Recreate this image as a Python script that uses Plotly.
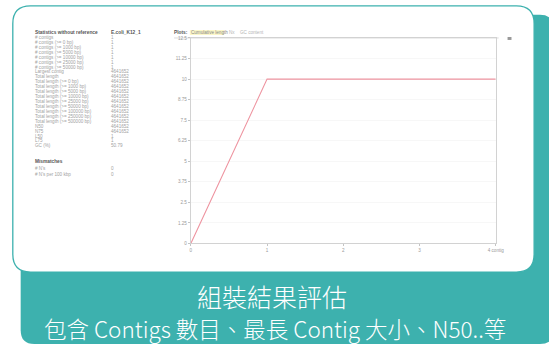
import plotly.graph_objects as go

W, H = 549, 349

# ---- data -------------------------------------------------------------
contig_index = [0, 1, 2, 3, 4]
cumulative_length = [0, 10, 10, 10, 10]
x_tick_vals = [0, 1, 2, 3, 4]
x_tick_text = ["0", "1", "2", "3", "4 contig"]
y_tick_vals = [0, 1.25, 2.5, 3.75, 5, 6.25, 7.5, 8.75, 10, 11.25, 12.5]
y_tick_text = ["0", "1.25", "2.5", "3.75", "5", "6.25", "7.5", "8.75", "10", "11.25", "12.5"]

stat_labels = [
    "# contigs", "# contigs (>= 0 bp)", "# contigs (>= 1000 bp)",
    "# contigs (>= 5000 bp)", "# contigs (>= 10000 bp)", "# contigs (>= 25000 bp)",
    "# contigs (>= 50000 bp)", "Largest contig", "Total length",
    "Total length (>= 0 bp)", "Total length (>= 1000 bp)", "Total length (>= 5000 bp)",
    "Total length (>= 10000 bp)", "Total length (>= 25000 bp)", "Total length (>= 50000 bp)",
    "Total length (>= 100000 bp)", "Total length (>= 250000 bp)", "Total length (>= 500000 bp)",
    "N50", "N75", "L50", "L75", "GC (%)",
]
stat_values = [
    "1", "1", "1", "1", "1", "1", "1", "4641652", "4641652",
    "4641652", "4641652", "4641652", "4641652", "4641652", "4641652",
    "4641652", "4641652", "4641652",
    "4641652", "4641652", "1", "1", "50.79",
]
mismatch_labels = ["# N's", "# N's per 100 kbp"]
mismatch_values = ["0", "0"]

title_line1 = "組裝結果評估"
title_line2 = "包含 Contigs 數目、最長 Contig 大小、N50..等"

TEAL = "#3db1ae"
CJK = "Noto Sans CJK TC, Noto Sans CJK SC, sans-serif"

# helpers: pixel position (from top-left) -> paper fraction
px = lambda v: v / W
py = lambda v: 1 - v / H


def rounded_rect(x0, y0, x1, y1, r):
    pts = []
    def P(cmd, *xy):
        coords = " ".join(f"{px(xy[i]):.5f},{py(xy[i+1]):.5f}" for i in range(0, len(xy), 2))
        pts.append(f"{cmd}{coords}")
    P("M", x0 + r, y0); P("L", x1 - r, y0); P("Q", x1, y0, x1, y0 + r)
    P("L", x1, y1 - r); P("Q", x1, y1, x1 - r, y1); P("L", x0 + r, y1)
    P("Q", x0, y1, x0, y1 - r); P("L", x0, y0 + r); P("Q", x0, y0, x0 + r, y0)
    return " ".join(pts) + " Z"


fig = go.Figure()

# cumulative length curve
fig.add_trace(go.Scatter(
    x=contig_index, y=cumulative_length, mode="lines",
    line=dict(color="#ee94a0", width=1.1), hoverinfo="skip", showlegend=False,
))

def pline(x0, y0, x1, y1, color, width=1):
    return dict(type="line", x0=px(x0), x1=px(x1), y0=py(y0), y1=py(y1),
                xref="paper", yref="paper", line=dict(color=color, width=width),
                layer="below")

def prect(x0, y0, x1, y1, color):
    return dict(type="rect", x0=px(x0), x1=px(x1), y0=py(y0), y1=py(y1),
                xref="paper", yref="paper", fillcolor=color, line=dict(width=0),
                layer="below")

shapes = [
    # teal card behind
    dict(type="path", path=rounded_rect(20, 13, 562, 347, 14), xref="paper", yref="paper",
         fillcolor=TEAL, line=dict(width=0), layer="below"),
    # white report panel
    dict(type="path", path=rounded_rect(12, 4, 542, 274, 18), xref="paper", yref="paper",
         fillcolor="white", line=dict(color=TEAL, width=1.3), layer="below"),
    # plots header underline
    pline(176, 36.5, 506, 36.5, "#dcdcdc"),
    # highlight behind "Cumulative length"
    prect(192, 28.5, 227, 33.5, "#fbf7c8"),
    # menu icon on the right
    prect(515, 35.5, 519, 38.5, "#999"),
]

ann = []
small = dict(family="Arial, Liberation Sans, sans-serif", size=4.6, color="#a2a2a2")
bold_small = dict(family="Arial, Liberation Sans, sans-serif", size=4.8, color="#555", weight="bold")

def text(x, y, s, font, xanchor="left"):
    ann.append(dict(x=px(x), y=py(y), xref="paper", yref="paper", text=s, showarrow=False,
                    xanchor=xanchor, yanchor="middle", font=font,
                    borderpad=0, borderwidth=0))

text(35, 31, "Statistics without reference", bold_small)
text(112, 31, "E.coli_K12_1", bold_small)
row_y = 36.0
step = 5.0
for i, (lab, val) in enumerate(zip(stat_labels, stat_values)):
    y = row_y + i * step
    text(35, y, lab, small)
    text(112, y, val, small)
text(35, 162, "Mismatches", bold_small)
for i, (lab, val) in enumerate(zip(mismatch_labels, mismatch_values)):
    y = 169 + i * 6
    text(35, y, lab, small)
    text(112, y, val, small)

# plots header
text(176, 31, "Plots:", bold_small)
text(193, 31, "Cumulative length", dict(small, color="#888"))
text(232, 31, "Nx", dict(small, color="#b5b5b5"))
text(243, 31, "GC content", dict(small, color="#b5b5b5"))

# banner text
ann.append(dict(x=px(276), y=py(298), xref="paper", yref="paper", text=title_line1,
                showarrow=False, xanchor="center", yanchor="middle",
                font=dict(family=CJK, size=25, color="white", weight=300)))
ann.append(dict(x=px(279), y=py(331), xref="paper", yref="paper", text=title_line2,
                showarrow=False, xanchor="center", yanchor="middle",
                font=dict(family=CJK, size=22.5, color="white", weight=300)))

axis_font = dict(family="Arial, Liberation Sans, sans-serif", size=4.6, color="#9a9a9a")

fig.update_layout(
    width=W, height=H, margin=dict(l=0, r=0, t=0, b=0),
    paper_bgcolor="white", plot_bgcolor="rgba(0,0,0,0)",
    shapes=shapes, annotations=ann, showlegend=False,
    xaxis=dict(domain=[px(193), px(503)], range=[0, 4], tickvals=x_tick_vals,
               ticktext=x_tick_text, showgrid=False, zeroline=False,
               showline=True, linecolor="#d2d2d2", linewidth=1, mirror=True,
               ticks="outside", ticklen=2, tickcolor="#c4c4c4", tickfont=axis_font,
               fixedrange=True),
    yaxis=dict(domain=[py(245), py(36.5)], range=[0, 12.5], tickvals=y_tick_vals,
               ticktext=y_tick_text, showgrid=True, gridcolor="#f7f7f7",
               zeroline=False, showline=True, linecolor="#d2d2d2", linewidth=1,
               mirror=True, ticks="outside", ticklen=2, tickcolor="#c4c4c4",
               tickfont=axis_font, fixedrange=True),
)

fig.write_html("out.html", config={"displayModeBar": False})
